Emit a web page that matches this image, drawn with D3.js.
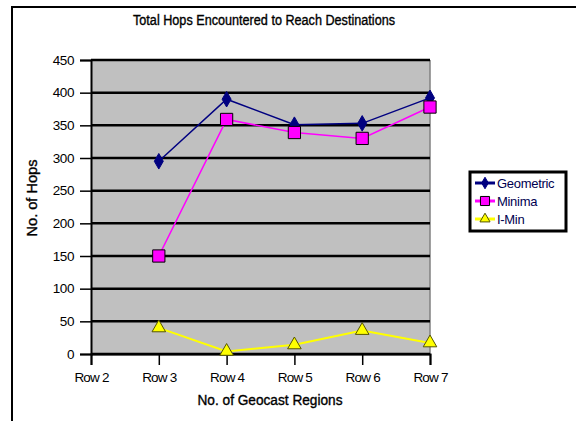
<!DOCTYPE html>
<html>
<head>
<meta charset="utf-8">
<script src="https://cdn.jsdelivr.net/npm/d3@7"></script>
<style>
  body { margin: 0; background: #fff; }
  svg { display: block; font-family: "Liberation Sans", Arial, sans-serif; }
  .title { stroke: #000; stroke-width: 0.35px; }
</style>
</head>
<body>
<div id="chart"></div>
<script>
const categories = ["Row 2", "Row 3", "Row 4", "Row 5", "Row 6", "Row 7"];
const geometric = [null, 295, 390, 351, 353, 392];
const minima = [null, 150, 359, 339, 330, 378];
const iMin = [null, 40, 4, 14, 36, 17];
const yTicks = [0, 50, 100, 150, 200, 250, 300, 350, 400, 450];

const width = 576, height = 421;
const plot = { left: 91, right: 430, top: 60, bottom: 354 };

const svg = d3.select("#chart").append("svg").attr("width", width).attr("height", height);

// outer frame
svg.append("path").attr("d", `M12,${height} L12,7 L${width},7`)
    .attr("fill", "none").attr("stroke", "#000").attr("stroke-width", 2);

svg.append("text").attr("class", "title").attr("x", 264).attr("y", 25).attr("text-anchor", "middle")
    .style("font-size", "14px")
    .attr("textLength", 262).attr("lengthAdjust", "spacingAndGlyphs")
    .text("Total Hops Encountered to Reach Destinations");

const x = d3.scalePoint().domain(categories).range([plot.left, plot.right]);
const y = d3.scaleLinear().domain([0, 450]).range([plot.bottom, plot.top]);

svg.append("rect").attr("x", plot.left).attr("y", plot.top)
    .attr("width", plot.right - plot.left).attr("height", plot.bottom - plot.top)
    .attr("fill", "#c0c0c0");
svg.append("line").attr("x1", plot.right).attr("x2", plot.right).attr("y1", plot.top).attr("y2", plot.bottom)
    .attr("stroke", "#808080").attr("stroke-width", 1.5);

// gridlines
svg.selectAll(".grid").data(yTicks).enter().append("line").attr("class", "grid")
    .attr("x1", plot.left).attr("x2", plot.right)
    .attr("y1", d => y(d)).attr("y2", d => y(d))
    .attr("stroke", "#000").attr("stroke-width", 2.5);

const yAxis = svg.append("g").attr("transform", `translate(${plot.left},0)`)
    .call(d3.axisLeft(y).tickValues(yTicks).tickSize(11).tickPadding(6));
const xAxis = svg.append("g").attr("transform", `translate(0,${plot.bottom})`)
    .call(d3.axisBottom(x).tickSize(11).tickPadding(6));
[yAxis, xAxis].forEach(g => {
    g.select(".domain").attr("stroke", "#000").attr("stroke-width", 2);
    g.selectAll(".tick line").attr("stroke", "#000").attr("stroke-width", 1.5);
    g.selectAll("text").style("font-size", "13.5px").style("letter-spacing", "-0.4px")
        .attr("fill", "#000").style("font-family", "'Liberation Sans', Arial, sans-serif");
});
xAxis.selectAll("text").attr("dy", "0.85em").style("letter-spacing", "-0.8px");

svg.append("text").attr("class", "title").attr("x", 270).attr("y", 405).attr("text-anchor", "middle")
    .style("font-size", "14px")
    .attr("textLength", 145).attr("lengthAdjust", "spacingAndGlyphs")
    .text("No. of Geocast Regions");
svg.append("text").attr("class", "title").attr("transform", `translate(37,198) rotate(-90)`)
    .attr("text-anchor", "middle").style("font-size", "14px")
    .attr("textLength", 77).attr("lengthAdjust", "spacingAndGlyphs")
    .text("No. of Hops");

const series = [
    { name: "Geometric", values: geometric, color: "#000080", width: 1.5, symbol: d3.symbolDiamond, size: 70, stroke: "#000080" },
    { name: "Minima", values: minima, color: "#ff00ff", width: 1.5, symbol: d3.symbolSquare, size: 150, stroke: "#000" },
    { name: "I-Min", values: iMin, color: "#ffff00", width: 2, symbol: d3.symbolTriangle, size: 80, stroke: "#555500" }
];

const line = d3.line().defined(d => d.v != null).x(d => x(d.c)).y(d => y(d.v));

series.forEach(s => {
    const pts = categories.map((c, i) => ({ c, v: s.values[i] }));
    svg.append("path").datum(pts).attr("d", line)
        .attr("fill", "none").attr("stroke", s.color).attr("stroke-width", s.width);
    svg.selectAll(null).data(pts.filter(d => d.v != null)).enter().append("path")
        .attr("d", d3.symbol().type(s.symbol).size(s.size))
        .attr("transform", d => `translate(${x(d.c)},${y(d.v)})`)
        .attr("fill", s.color).attr("stroke", s.stroke).attr("stroke-width", 1);
});

// legend
const legend = svg.append("g");
legend.append("rect").attr("x", 470).attr("y", 172).attr("width", 96).attr("height", 59)
    .attr("fill", "#fff").attr("stroke", "#000").attr("stroke-width", 3);
series.forEach((s, i) => {
    const ly = 183 + i * 18;
    legend.append("line").attr("x1", 475).attr("x2", 495).attr("y1", ly).attr("y2", ly)
        .attr("stroke", s.color).attr("stroke-width", 3);
    legend.append("path").attr("d", d3.symbol().type(s.symbol).size(s.size * 0.55))
        .attr("transform", `translate(485,${ly})`)
        .attr("fill", s.color).attr("stroke", s.stroke).attr("stroke-width", 1);
    legend.append("text").attr("x", 497).attr("y", ly + 4.5)
        .style("font-size", "13px").style("letter-spacing", "-0.3px").attr("fill", "#000050").text(s.name);
});
</script>
</body>
</html>
